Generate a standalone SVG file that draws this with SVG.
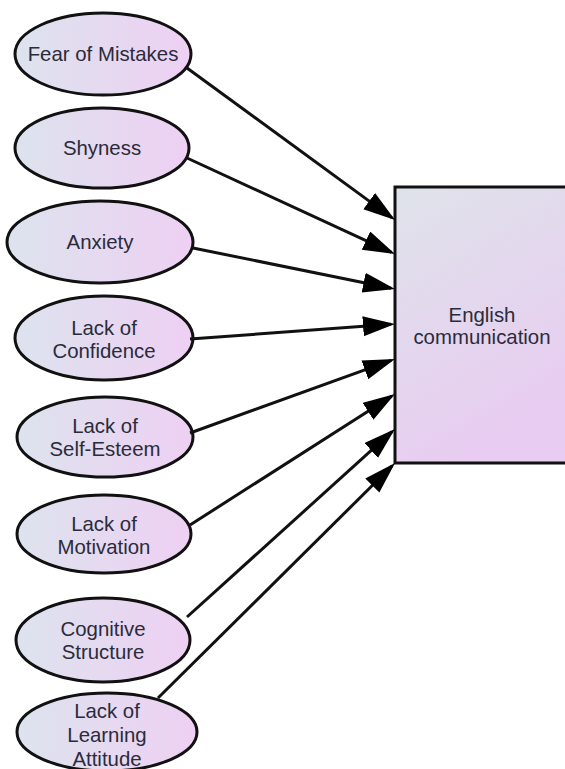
<svg xmlns="http://www.w3.org/2000/svg" width="565" height="769" viewBox="0 0 565 769">
<style>
.node ellipse{fill:url(#eg);stroke:#111;stroke-width:3}
.box{fill:url(#rg);stroke:#111;stroke-width:3}
text{font-family:"Liberation Sans",Arial,sans-serif;font-size:20.4px;fill:#2b2b3a;text-anchor:middle}
.conn line{stroke:#111;stroke-width:3;marker-end:url(#ah)}
</style>
<defs>
<linearGradient id="eg" x1="0" y1="0" x2="1" y2="0">
<stop offset="0" stop-color="#dde3ee"/>
<stop offset="1" stop-color="#eed0f3"/>
</linearGradient>
<linearGradient id="rg" x1="0" y1="0" x2="0.4" y2="1">
<stop offset="0" stop-color="#dfe3ea"/>
<stop offset="1" stop-color="#e8ccf1"/>
</linearGradient>
<marker id="ah" markerUnits="userSpaceOnUse" markerWidth="34" markerHeight="22" refX="28" refY="10" orient="auto">
<path d="M0,0 L32,10 L0,20 z" fill="#000"/>
</marker>
</defs>
<rect width="565" height="769" fill="#fff"/>
<g id="english-communication">
<rect class="box" x="395" y="187" width="180" height="276"/>
<text x="482" y="322">English</text>
<text x="482" y="344">communication</text>
</g>
<g class="node" id="fear-of-mistakes">
<ellipse cx="103" cy="54" rx="88" ry="41"/>
<text x="103" y="61">Fear of Mistakes</text>
</g>
<g class="node" id="shyness">
<ellipse cx="102" cy="148" rx="87" ry="40"/>
<text x="102" y="155">Shyness</text>
</g>
<g class="node" id="anxiety">
<ellipse cx="100" cy="242" rx="93" ry="41"/>
<text x="100" y="249">Anxiety</text>
</g>
<g class="node" id="lack-of-confidence">
<ellipse cx="104" cy="338" rx="89" ry="42"/>
<text x="104" y="335">Lack of</text>
<text x="104" y="358">Confidence</text>
</g>
<g class="node" id="lack-of-self-esteem">
<ellipse cx="105" cy="437" rx="88" ry="40"/>
<text x="105" y="433">Lack of</text>
<text x="105" y="456">Self-Esteem</text>
</g>
<g class="node" id="lack-of-motivation">
<ellipse cx="104" cy="534" rx="87" ry="39"/>
<text x="104" y="531">Lack of</text>
<text x="104" y="554">Motivation</text>
</g>
<g class="node" id="cognitive-structure">
<ellipse cx="103" cy="640" rx="87" ry="42"/>
<text x="103" y="636">Cognitive</text>
<text x="103" y="659">Structure</text>
</g>
<g class="node" id="lack-of-learning-attitude">
<ellipse cx="107" cy="732" rx="90" ry="39"/>
<text x="107" y="718">Lack of</text>
<text x="107" y="742">Learning</text>
<text x="107" y="766">Attitude</text>
</g>
<g class="conn" id="connectors">
<line x1="187" y1="68" x2="391.8" y2="217.6"/>
<line x1="187" y1="158" x2="391.4" y2="252.3"/>
<line x1="193" y1="248" x2="391.1" y2="288.2"/>
<line x1="190" y1="339" x2="391" y2="324.3"/>
<line x1="190" y1="433" x2="391.2" y2="360.4"/>
<line x1="190" y1="525" x2="391.6" y2="396.2"/>
<line x1="187" y1="617" x2="392" y2="431.7"/>
<line x1="158" y1="698" x2="392.2" y2="465.8"/>
</g>
</svg>
